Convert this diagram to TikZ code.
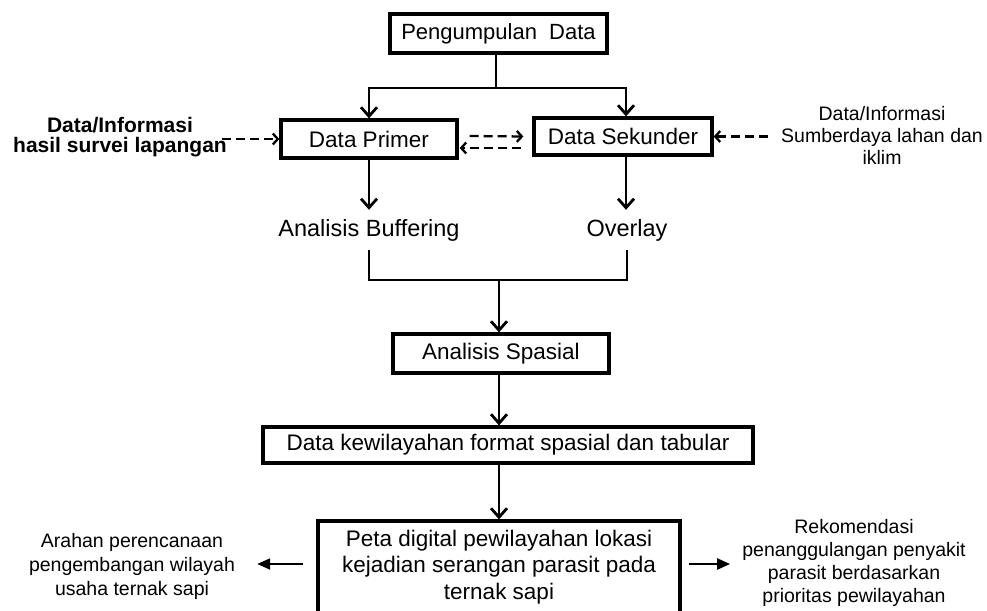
\documentclass[tikz,border=0pt]{standalone}
\usepackage{fontspec}
\setmainfont{Liberation Sans}
\usetikzlibrary{arrows.meta,calc}
\newcommand\myfs[2]{\fontsize{#1}{#2}\selectfont}
\begin{document}
\begin{tikzpicture}[x=1pt,y=-1pt,
  box/.style={draw, line width=3.3pt, inner sep=0pt, align=center},
  txt/.style={inner sep=3pt, align=center},
  arr/.style={line width=2.8pt, -{Straight Barb[length=9pt,width=16pt]}},
  plain/.style={line width=2.8pt},
  darr/.style={line width=2.3pt, dash pattern=on 9pt off 5pt, -{Straight Barb[length=5pt,width=11pt]}},
  tri/.style={line width=2.2pt, -{Triangle[length=13pt,width=11pt]}}]
\useasboundingbox[fill=white] (0,0) rectangle (987,610);

% boxes
\node[box, minimum width=217pt, minimum height=39pt, font=\myfs{22}{26}] (pd) at (498.5,33.5) {Pengumpulan\ \ Data};
\node[box, minimum width=176pt, minimum height=38pt, font=\myfs{22.5}{26}] (dp) at (369,139) {Data Primer};
\node[box, minimum width=178pt, minimum height=37pt, font=\myfs{22.5}{26}] (ds) at (623,136.5) {Data Sekunder};
\node[box, minimum width=216pt, minimum height=39pt, font=\myfs{22.5}{26}] (sp) at (501,353.5) {Analisis Spasial};
\node[box, minimum width=490pt, minimum height=36pt, font=\myfs{22.5}{26}] (dk) at (508,445) {Data kewilayahan format spasial dan tabular};
\node[box, minimum width=362pt, minimum height=92pt, font=\myfs{22.5}{26.5}] (pt) at (499,567) {Peta digital pewilayahan lokasi\\kejadian serangan parasit pada\\ternak sapi};

% plain texts
\node[txt, anchor=base, inner ysep=9pt, text height=17pt, text depth=5pt, font=\myfs{23.5}{27}] (ab) at (369,236) {Analisis Buffering};
\node[txt, anchor=base, inner ysep=9pt, text height=17pt, text depth=5pt, font=\myfs{23.5}{27}] (ov) at (627,236) {Overlay};

\node[txt, font=\myfs{21}{20}\bfseries] (lb) at (120,137) {Data/Informasi\\hasil survei lapangan};
\node[txt, font=\myfs{19.5}{22}] (rt) at (882,135) {Data/Informasi\\Sumberdaya lahan dan\\iklim};
\node[txt, font=\myfs{19.5}{24}] (al) at (132,566) {Arahan perencanaan\\pengembangan wilayah\\usaha ternak sapi};
\node[txt, font=\myfs{19.5}{23}] (ar) at (854,563) {Rekomendasi\\penanggulangan penyakit\\parasit berdasarkan\\prioritas pewilayahan};

% split from Pengumpulan Data
\coordinate (split) at (496,88);
\draw[plain] (pd.south -| split) -- (split);
\draw[arr] (split) -| (dp.north);
\draw[arr] (split) -| ($(ds.north)+(3,0)$);

% dashed inputs
\draw[darr] ($(lb.east |- dp.west)+(-8,0)$) -- (dp.west);
\draw[darr] ($(rt.west |- ds.east)+(-10,0)$) -- (ds.east);
\draw[darr] ($(dp.east)+(11,-3)$) -- ($(ds.west)+(-9,0)$);
\draw[darr] ($(ds.west)+(-11,11.5)$) -- ($(dp.east)+(1,9)$);

% down to analyses
\draw[arr] (dp.south) -- (ab.north);
\draw[arr] ($(ds.south)+(3,0)$) -- ($(ov.north -| ds.south)+(3,0)$);

% merge
\coordinate (merge) at (499,280);
\draw[plain] (ab.south) |- (merge) -| (ov.south);
\draw[arr] (merge) -- (merge |- sp.north);
\draw[arr] (sp.south -| merge) -- (merge |- dk.north);
\draw[arr] (dk.south -| pt.north) -- (pt.north);

% outputs
\draw[tri] ($(pt.west)+(-13,-3)$) -- ($(al.east |- pt.west)+(19,-3)$);
\draw[tri] ($(pt.east)+(7,-3)$) -- ($(ar.west |- pt.east)+(-9,-3)$);
\end{tikzpicture}
\end{document}
